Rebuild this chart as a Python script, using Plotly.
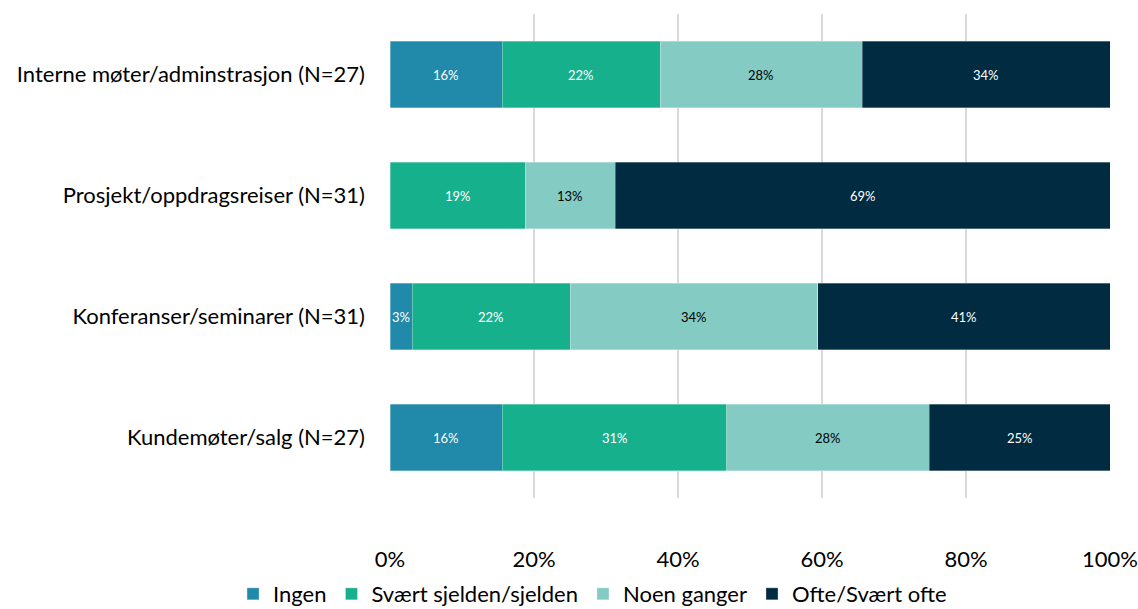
import plotly.graph_objects as go

# categories, top to bottom
categories = [
    "Interne møter/adminstrasjon (N=27)",
    "Prosjekt/oppdragsreiser (N=31)",
    "Konferanser/seminarer (N=31)",
    "Kundemøter/salg (N=27)",
]
ingen = [15.6, 0.0, 3.1, 15.6]
sjelden = [21.9, 18.8, 21.9, 31.2]
noen = [28.1, 12.5, 34.4, 28.1]
ofte = [34.4, 68.8, 40.6, 25.1]

series = [
    ("Ingen", ingen, "#2189AA", "white"),
    ("Svært sjelden/sjelden", sjelden, "#17B08C", "white"),
    ("Noen ganger", noen, "#84CBC4", "black"),
    ("Ofte/Svært ofte", ofte, "#002B40", "white"),
]

fig = go.Figure()
annotations = []
base = [0.0] * len(categories)
for name, vals, color, txtcol in series:
    fig.add_trace(go.Bar(
        y=categories, x=vals, name=name, orientation="h",
        marker=dict(color=color, line=dict(color="rgba(255,255,255,0.6)", width=0.5)),
        width=0.55, hoverinfo="skip",
    ))
    # segment labels, centered in each bar (round half up like Excel)
    for i, v in enumerate(vals):
        if v > 0:
            annotations.append(dict(
                x=base[i] + v / 2, y=categories[i], xref="x", yref="y",
                text=f"{int(v + 0.5)}%", showarrow=False,
                font=dict(size=13, color=txtcol, family="Lato"),
            ))
        base[i] += v

fig.update_layout(
    barmode="stack",
    width=1138, height=609,
    margin=dict(l=390, r=28, t=14, b=111, autoexpand=False),
    plot_bgcolor="white", paper_bgcolor="white",
    font=dict(family="Lato", size=22, color="black"),
    annotations=annotations,
    legend=dict(
        orientation="h", xref="paper", yref="paper",
        x=-0.218, xanchor="left", y=-0.155, yanchor="top",
        font=dict(size=22), traceorder="normal",
        itemwidth=30, tracegroupgap=0,
    ),
    xaxis=dict(
        range=[0, 100], tickvals=[0, 20, 40, 60, 80, 100],
        ticktext=["0%", "20%", "40%", "60%", "80%", "100%"],
        showgrid=True, gridcolor="#d9d9d9", gridwidth=2,
        zeroline=False, showline=False, ticks="",
        ticklabelstandoff=46, automargin=False,
    ),
    yaxis=dict(
        autorange="reversed", showgrid=False, ticks="",
        ticklabelstandoff=24, automargin=False,
    ),
)

# drop the page's default body margin so the figure sits at the window's corner
fig.write_html("out.html", config={"displayModeBar": False},
               post_script="document.body.style.margin='0';")
